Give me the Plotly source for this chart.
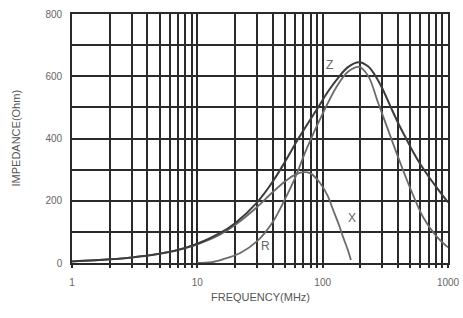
import math
import plotly.graph_objects as go

# Data (frequency in MHz, impedance in Ohm)
z_freq = [1, 2, 3, 5, 7, 10, 15, 20, 30, 40, 50, 63, 80, 92, 110, 130, 160, 195, 230, 260, 300, 350, 400, 470, 530, 600, 700, 850, 1000]
z_vals = [5, 12, 18, 30, 42, 62, 95, 128, 195, 262, 325, 395, 462, 500, 550, 590, 630, 645, 632, 605, 560, 500, 450, 395, 355, 318, 278, 232, 195]

x_freq = [1, 2, 3, 5, 7, 10, 15, 20, 30, 40, 50, 60, 70, 80, 95, 110, 120, 135, 145, 160, 168]
x_vals = [5, 12, 18, 30, 42, 60, 90, 122, 180, 228, 262, 283, 292, 288, 258, 215, 175, 122, 85, 38, 10]

r_freq = [10, 13, 16, 22, 30, 40, 50, 60, 75, 100, 130, 160, 195, 230, 277, 345, 400, 500, 632, 800, 1000]
r_vals = [0, 3, 12, 32, 70, 132, 205, 272, 370, 480, 568, 615, 630, 602, 515, 410, 340, 240, 148, 88, 50]

curve_labels = ["Z", "X", "R"]
label_freq = [114, 172, 35]
label_vals = [635, 145, 55]

x_major = [1, 10, 100, 1000]
y_ticks = [0, 100, 200, 300, 400, 500, 600, 700, 800]

x_tickvals = []
for dec in [1, 10, 100]:
    for m in range(1, 10):
        x_tickvals.append(dec * m)
x_tickvals.append(1000)
x_ticktext = [str(v) if v in x_major else "" for v in x_tickvals]
y_ticktext = [str(v) if v % 200 == 0 else "" for v in y_ticks]

fig = go.Figure()
fig.add_trace(go.Scatter(x=x_freq, y=x_vals, mode="lines", line=dict(color="#6a6a6a", width=1.8, shape="spline"), name="X"))
fig.add_trace(go.Scatter(x=r_freq, y=r_vals, mode="lines", line=dict(color="#6a6a6a", width=1.8, shape="spline"), name="R"))
fig.add_trace(go.Scatter(x=z_freq, y=z_vals, mode="lines", line=dict(color="#3c3c3c", width=2, shape="spline"), name="Z"))

for t, f, v in zip(curve_labels, label_freq, label_vals):
    fig.add_annotation(x=math.log10(f), y=v, text=t, showarrow=False,
                       font=dict(family="Liberation Sans, Arial", size=12, color="#666"))

title_font = dict(family="Liberation Sans, Arial", size=11, color="#555")
fig.add_annotation(xref="paper", yref="paper", x=0.5, y=0, yshift=-34, yanchor="middle",
                   text="FREQUENCY(MHz)", showarrow=False, font=title_font)
fig.add_annotation(xref="paper", yref="paper", x=0, y=0.5, xshift=-57, xanchor="center",
                   text="IMPEDANCE(Ohm)", textangle=-90, showarrow=False, font=title_font)

font = dict(family="Liberation Sans, Arial", size=10, color="#666")
fig.update_layout(
    width=463, height=318,
    margin=dict(l=72, r=15, t=14, b=55),
    paper_bgcolor="white", plot_bgcolor="white",
    showlegend=False,
    font=font,
    xaxis=dict(type="log", range=[0, 3], tickvals=x_tickvals, ticktext=x_ticktext,
               showgrid=True, gridcolor="#2a2a2a", gridwidth=1.6,
               showline=True, linecolor="#2a2a2a", linewidth=1.6, mirror=True,
               ticks="outside", ticklen=3, tickcolor="#2a2a2a", tickwidth=1.5,
               ticklabelstandoff=6,
               tickfont=font, zeroline=False, automargin=False),
    yaxis=dict(range=[0, 800], tickvals=y_ticks, ticktext=y_ticktext,
               showgrid=True, gridcolor="#2a2a2a", gridwidth=1.6,
               showline=True, linecolor="#2a2a2a", linewidth=1.6, mirror=True,
               ticks="", ticklabelstandoff=6,
               tickfont=font, zeroline=False, automargin=False),
)

fig.write_html("out.html", config={"displayModeBar": False},
               post_script="document.body.style.margin='0px';")
